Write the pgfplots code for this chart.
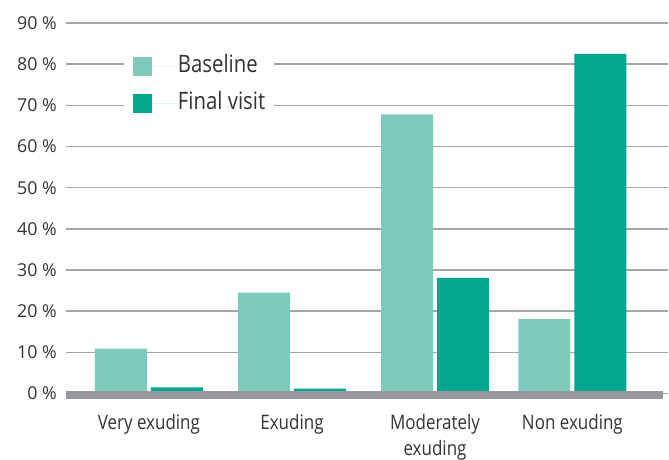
\documentclass[border=0pt]{standalone}
\usepackage{pgfplots}
\pgfplotsset{compat=1.18}
\usepackage{fontspec}
\setmainfont[FakeStretch=0.85]{Open Sans}
\newfontfamily\tickfont{Open Sans}
\definecolor{base}{HTML}{7ECBBD}
\definecolor{fin}{HTML}{00A58D}
\definecolor{gridc}{HTML}{A5A5A5}
\definecolor{band}{HTML}{98989D}
\definecolor{txt}{HTML}{333333}
\begin{document}
\begin{tikzpicture}
\begin{axis}[
  scale only axis, width=603pt, height=371pt,
  ybar=4pt, bar width=52pt,
  xmin=-0.58, xmax=3.63, ymin=0, ymax=90,
  clip=false,
  xtick={0,1,2,2.96},
  xticklabels={Very exuding,Exuding,{Moderately\\exuding},Non exuding},
  xticklabel style={align=center, font=\fontsize{20}{26}\selectfont, text=txt, inner sep=0pt, yshift=-16pt},
  ytick={0,10,...,90},
  yticklabel={\pgfmathprintnumber[assume math mode=true]{\tick}\ \%},
  yticklabel style={font=\tickfont\fontsize{17.8}{20}\selectfont, text=txt, inner sep=0pt, xshift=-9pt},
  axis line style={draw=none}, tick style={draw=none},
  ymajorgrids, grid style={gridc, line width=1.6pt},
  legend style={at={(0.096,0.935)}, anchor=north west, draw=none, fill=white,
    font=\fontsize{24}{28}\selectfont, text=txt,
    nodes={inner sep=0pt, text height=17pt, text depth=5pt},
    row sep=15pt, inner xsep=9pt, inner ysep=8pt},
  legend cell align=left,
  legend image code/.code={\fill[#1] (0pt,-9.5pt) rectangle (19pt,9.5pt); \path (0pt,0pt) -- (45pt,0pt);},
]
\addplot[fill=base, draw=none] coordinates {(0,10.9) (1,24.5) (2,67.8) (2.96,18.1)};
\addplot[fill=fin, draw=none] coordinates {(0,1.5) (1,1.2) (2,28.1) (2.96,82.5)};
\legend{Baseline, Final visit}
\draw[band, line width=8pt] ([yshift=-1.5pt]axis cs:-0.58,0) -- ([yshift=-1.5pt]axis cs:3.596,0);
\end{axis}
\path (-66pt,-65pt) rectangle (603pt,394pt);
\end{tikzpicture}
\end{document}
